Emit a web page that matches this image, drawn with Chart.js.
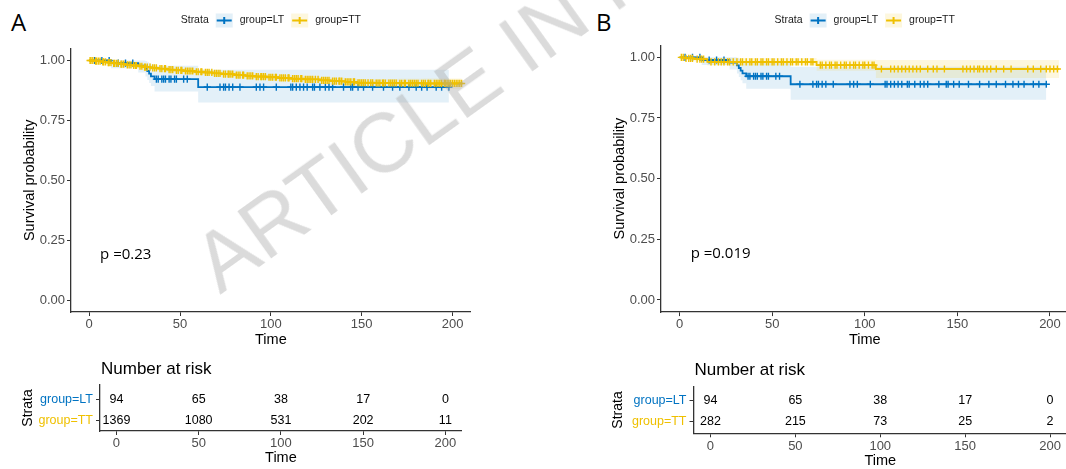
<!DOCTYPE html>
<html>
<head>
<meta charset="utf-8">
<script src="https://cdn.jsdelivr.net/npm/chart.js@4.4.1/dist/chart.umd.min.js"></script>
<style>
  html, body { margin: 0; padding: 0; background: #fff; }
  body { width: 1066px; height: 469px; position: relative; overflow: hidden; }
  canvas { position: absolute; }
  .tag { position: absolute; top: 10px; font-family: "Open Sans", sans-serif; font-size: 24px; line-height: 24px; color: #000; }
  .watermark {
    position: absolute; left: 220px; top: 295px; white-space: nowrap;
    font-family: "Liberation Sans", Arial, sans-serif; font-size: 84px; line-height: 84px;
    color: rgba(165, 165, 165, 0.4); pointer-events: none;
    transform-origin: 0 0; transform: rotate(-35.6deg) translate(0, -71px);
  }
</style>
</head>
<body>
<div class="tag" style="left:11px">A</div>
<div class="tag" style="left:596px">B</div>
<canvas id="survA" width="533" height="360" style="left:0;top:0;width:533px;height:360px"></canvas>
<canvas id="survB" width="490" height="360" style="left:590px;top:0;width:490px;height:360px"></canvas>
<canvas id="riskA" width="533" height="130" style="left:0;top:345px;width:533px;height:130px"></canvas>
<canvas id="riskB" width="490" height="130" style="left:590px;top:345px;width:490px;height:130px"></canvas>
<div class="watermark">ARTICLE IN PRESS</div>

<script>
// ---- values ----
const timeTicks = [0, 50, 100, 150, 200];
const survTicks = [0, 0.25, 0.5, 0.75, 1];
const strata = ['group=LT', 'group=TT'];

// group=LT (same group in A and B)
const ltTimes = [0, 12, 27, 31, 32, 33, 34, 36, 60, 198];
const ltSurv  = [1, 0.989, 0.978, 0.967, 0.956, 0.945, 0.934, 0.922, 0.889, 0.889];
const ltUpper = [1, 1, 1, 0.998, 0.993, 0.988, 0.983, 0.978, 0.961, 0.961];
const ltLower = [1, 0.968, 0.950, 0.933, 0.919, 0.906, 0.893, 0.870, 0.825, 0.825];
const ltCensor = [3, 7, 11, 16, 20, 24, 37, 38, 40, 41, 42, 44, 45, 47, 48, 52, 54, 65, 72, 74, 75, 77, 79, 83,
  92, 94, 96, 103, 111, 112, 114, 116, 118, 120, 123, 124, 127, 130, 132, 134, 140, 144, 145, 148, 151,
  156, 162, 167, 171, 176, 180, 183, 186, 191, 194, 198];

// group=TT, panel A
const ttATimes = [0, 3, 7, 10, 13, 17, 20, 24, 27, 30, 34, 38, 43, 47, 52, 58, 63, 68, 73, 80,
  86, 91, 98, 104, 111, 118, 127, 133, 141, 147, 157, 170, 184, 205];
const ttASurv = [1, 0.997, 0.994, 0.991, 0.988, 0.985, 0.982, 0.979, 0.976, 0.972, 0.969, 0.966, 0.962, 0.959,
  0.956, 0.953, 0.950, 0.946, 0.943, 0.939, 0.936, 0.933, 0.930, 0.927, 0.924, 0.921, 0.917, 0.914, 0.911,
  0.907, 0.906, 0.905, 0.904, 0.904];
const ttAUpper = [1, 1, 0.998, 0.996, 0.994, 0.992, 0.989, 0.987, 0.984, 0.981, 0.978, 0.975, 0.972, 0.969,
  0.966, 0.963, 0.960, 0.957, 0.954, 0.950, 0.947, 0.944, 0.942, 0.939, 0.937, 0.934, 0.931, 0.928, 0.926,
  0.923, 0.923, 0.924, 0.925, 0.925];
const ttALower = [1, 0.994, 0.990, 0.986, 0.982, 0.978, 0.975, 0.971, 0.968, 0.963, 0.960, 0.957, 0.952, 0.949,
  0.946, 0.943, 0.939, 0.935, 0.932, 0.928, 0.924, 0.921, 0.917, 0.914, 0.910, 0.907, 0.902, 0.899, 0.895,
  0.891, 0.888, 0.886, 0.882, 0.882];
const ttACensor = [0.5, 1, 2, 3.5, 4, 5, 6, 7.5, 8, 9, 10.5, 11, 12, 13.5, 14, 15, 16, 17.5, 18, 19, 21, 22, 23,
  24.5, 25.5, 26, 28, 29, 30.5, 31, 32, 33.5, 35, 36, 37, 39, 40, 41.5, 42, 44, 45, 46, 48, 49, 50.5, 51, 53,
  54, 55, 56, 57, 59, 60, 61.5, 62, 64, 65, 66, 67.5, 69, 70, 71, 72, 74, 75, 76.5, 77, 78, 79, 81, 82, 83,
  84.5, 85, 87, 88, 89, 90, 92, 93, 94.5, 95, 96, 97, 99, 100, 101, 102.5, 103, 105, 106, 107, 108, 109.5,
  110, 112, 113, 114, 115, 116.5, 117, 119, 120, 121, 122, 123, 124.5, 126, 128, 129, 130, 131, 132, 134,
  135, 136, 137.5, 138, 139, 141, 142, 143, 144, 145.5, 146, 148, 149, 150, 151, 152, 153.5, 155, 156, 158,
  159, 160, 161.5, 162, 163, 165, 166, 167, 168, 169, 171, 172, 173.5, 174, 176, 177, 178, 179, 180, 181,
  183, 184, 185, 186.5, 187, 188, 190, 191, 192, 193, 194, 195.5, 196, 197, 198, 199, 200, 201, 202, 203, 204, 205];

// group=TT, panel B
const ttBTimes = [0, 3, 8, 15, 74, 106, 205];
const ttBSurv  = [1, 0.996, 0.993, 0.981, 0.968, 0.952, 0.952];
const ttBUpper = [1, 1, 1, 0.997, 0.990, 0.989, 0.989];
const ttBLower = [1, 0.988, 0.983, 0.966, 0.945, 0.915, 0.915];
const ttBCensor = [1, 2, 3.5, 5, 6, 7, 9.5, 11, 12, 13, 17, 19, 21, 22.5, 24, 26, 27, 29, 31, 33, 34, 36, 38, 39,
  41, 42, 44, 45, 47, 48, 50, 51, 53, 55, 56, 58, 60, 61, 63, 64, 66, 68, 69, 71, 72, 76, 77, 79, 81, 82, 84,
  85, 87, 89, 90, 92, 94, 95, 97, 99, 100, 102, 104, 105, 109, 114, 116, 118, 120, 122, 124, 126, 128, 130,
  134, 137, 139, 143, 153, 155, 157, 159, 161, 162, 164, 166, 168, 171, 175, 179, 188, 191, 195, 198, 200,
  202, 204];

// number at risk
const riskTimes = [0, 50, 100, 150, 200];
const riskLT  = [94, 65, 38, 17, 0];
const riskTTA = [1369, 1080, 531, 202, 11];
const riskTTB = [282, 215, 73, 25, 2];

const pValueA = 'p =0.23';
const pValueB = 'p =0.019';

// ---- styling ----
const ltColor = '#0073C2';
const ttColor = '#EFC000';
const ltBand = 'rgba(0, 115, 194, 0.11)';
const ttBand = 'rgba(239, 192, 0, 0.13)';
const tickGrey = '#4d4d4d';
const axisColor = '#333';
const FONT = '"Liberation Sans", Arial, sans-serif';

Chart.defaults.font.family = FONT;
Chart.defaults.color = '#000';

function survAt(times, surv, t) {
  let s = surv[0];
  for (let i = 0; i < times.length; i++) {
    if (times[i] <= t) s = surv[i];
  }
  return s;
}

function toPoints(times, vals) {
  return times.map((t, i) => ({ x: t, y: vals[i] }));
}

function groupDatasets(g, color, band, baseOrder) {
  const cens = g.cens.map(t => ({ x: t, y: survAt(g.times, g.surv, t) }));
  return {
    bands: [
      { data: toPoints(g.times, g.lo), stepped: true, borderWidth: 0, borderColor: 'rgba(0,0,0,0)',
        pointRadius: 0, fill: false, order: baseOrder + 10 },
      { data: toPoints(g.times, g.up), stepped: true, borderWidth: 0, borderColor: 'rgba(0,0,0,0)',
        pointRadius: 0, fill: '-1', backgroundColor: band, order: baseOrder + 9 }
    ],
    marks: [
      { data: toPoints(g.times, g.surv), stepped: true, borderColor: color, borderWidth: 1.8,
        pointRadius: 0, fill: false, order: baseOrder + 1 },
      { data: cens, showLine: false, pointStyle: 'cross', pointRadius: 3.6, pointBorderWidth: 1.4,
        pointBorderColor: color, pointBackgroundColor: color, order: baseOrder }
    ]
  };
}

const strataKey = {
  id: 'strataKey',
  afterDraw(chart) {
    const { ctx, chartArea } = chart;
    const y = 20.5, keyW = 17, keyH = 14, gap = 7;
    const items = [
      { label: strata[0], color: ltColor, band: ltBand },
      { label: strata[1], color: ttColor, band: ttBand }
    ];
    ctx.save();
    ctx.font = '10.5px ' + FONT;
    ctx.textBaseline = 'middle';
    let total = ctx.measureText('Strata').width;
    items.forEach(it => { total += gap + keyW + gap + ctx.measureText(it.label).width; });
    let x = (chartArea.left + chartArea.right) / 2 - total / 2;
    ctx.fillStyle = '#1a1a1a';
    ctx.fillText('Strata', x, y);
    x += ctx.measureText('Strata').width;
    items.forEach(it => {
      x += gap;
      ctx.fillStyle = it.band;
      ctx.fillRect(x, y - keyH / 2, keyW, keyH);
      ctx.strokeStyle = it.color;
      ctx.lineWidth = 2;
      ctx.beginPath();
      ctx.moveTo(x + 1, y); ctx.lineTo(x + keyW - 1, y);
      ctx.moveTo(x + keyW / 2, y - 3.5); ctx.lineTo(x + keyW / 2, y + 3.5);
      ctx.stroke();
      x += keyW + gap;
      ctx.fillStyle = '#1a1a1a';
      ctx.fillText(it.label, x, y);
      x += ctx.measureText(it.label).width;
    });
    ctx.restore();
  }
};

const pLabel = {
  id: 'pLabel',
  afterDraw(chart, args, opts) {
    const { ctx, scales } = chart;
    ctx.save();
    ctx.font = '15px "Open Sans", sans-serif';
    ctx.fillStyle = '#000';
    ctx.textBaseline = 'middle';
    ctx.fillText(opts.text, scales.x.getPixelForValue(opts.x), scales.y.getPixelForValue(opts.y));
    ctx.restore();
  }
};

const riskText = {
  id: 'riskText',
  afterDatasetsDraw(chart) {
    const { ctx, chartArea } = chart;
    ctx.save();
    ctx.font = '12.5px ' + FONT;
    ctx.fillStyle = '#000';
    ctx.textAlign = 'center';
    ctx.textBaseline = 'middle';
    chart.data.datasets.forEach((ds, i) => {
      chart.getDatasetMeta(i).data.forEach((el, j) => {
        ctx.fillText(String(ds.data[j].n), el.x, el.y);
      });
    });
    ctx.font = '17px ' + FONT;
    ctx.textAlign = 'left';
    ctx.fillText('Number at risk', chartArea.left + 1, chartArea.top - 16);
    ctx.restore();
  }
};

function axisGrid() {
  return { drawOnChartArea: false, drawTicks: true, tickLength: 4, color: axisColor, lineWidth: 1 };
}

function timeScale(height, titlePad) {
  return {
    type: 'linear', min: -10, max: 210,
    afterBuildTicks: s => { s.ticks = timeTicks.map(v => ({ value: v })); },
    afterFit: s => { s.height = height; },
    ticks: { color: tickGrey, font: { size: 13 }, padding: 1, maxRotation: 0 },
    grid: axisGrid(),
    border: { display: true, color: axisColor, width: 1.3 },
    title: { display: true, text: 'Time', color: '#000', font: { size: 14.5 }, padding: { top: 0, bottom: titlePad } }
  };
}

function makeSurvChart(id, lt, tt, pad, pText) {
  const a = groupDatasets(lt, ltColor, ltBand, 2);
  const b = groupDatasets(tt, ttColor, ttBand, 0);
  new Chart(document.getElementById(id), {
    type: 'line',
    data: { datasets: [...a.bands, ...b.bands, ...a.marks, ...b.marks] },
    options: {
      responsive: false, animation: false, events: [],
      layout: { padding: pad },
      plugins: { legend: { display: false }, tooltip: { enabled: false }, pLabel: pText },
      scales: {
        x: timeScale(40, pad.xTitle),
        y: {
          type: 'linear', min: -0.05, max: 1.05,
          afterBuildTicks: s => { s.ticks = survTicks.map(v => ({ value: v })); },
          afterFit: s => { s.width = 71; },
          ticks: { color: tickGrey, font: { size: 13 }, padding: 2, callback: v => v.toFixed(2) },
          grid: axisGrid(),
          border: { display: true, color: axisColor, width: 1.3 },
          title: { display: true, text: 'Survival probability', color: '#000', font: { size: 14.5 },
                   padding: { top: 21, bottom: 0 } }
        }
      }
    },
    plugins: [strataKey, pLabel]
  });
}

function makeRiskChart(id, ttRisk, pad, yWidth, yRange) {
  const rowLT = riskTimes.map((t, i) => ({ x: t, y: 1, n: riskLT[i] }));
  const rowTT = riskTimes.map((t, i) => ({ x: t, y: 0, n: ttRisk[i] }));
  new Chart(document.getElementById(id), {
    type: 'line',
    data: {
      datasets: [
        { data: rowLT, showLine: false, pointRadius: 0 },
        { data: rowTT, showLine: false, pointRadius: 0 }
      ]
    },
    options: {
      responsive: false, animation: false, events: [],
      layout: { padding: pad },
      plugins: { legend: { display: false }, tooltip: { enabled: false } },
      scales: {
        x: timeScale(40, pad.xTitle),
        y: {
          type: 'linear', min: yRange[0], max: yRange[1],
          afterBuildTicks: s => { s.ticks = [{ value: 0 }, { value: 1 }]; },
          afterFit: s => { s.width = yWidth; },
          ticks: {
            font: { size: 12.5 }, padding: 3,
            callback: v => (v === 1 ? strata[0] : strata[1]),
            color: c => (c.tick && c.tick.value === 1 ? ltColor : ttColor)
          },
          grid: axisGrid(),
          border: { display: true, color: axisColor, width: 1.3 },
          title: { display: true, text: 'Strata', color: '#000', font: { size: 14 }, padding: { top: 19.6, bottom: 0 } }
        }
      }
    },
    plugins: [riskText]
  });
}

const ltGroup = { times: ltTimes, surv: ltSurv, up: ltUpper, lo: ltLower, cens: ltCensor };
const ttGroupA = { times: ttATimes, surv: ttASurv, up: ttAUpper, lo: ttALower, cens: ttACensor };
const ttGroupB = { times: ttBTimes, surv: ttBSurv, up: ttBUpper, lo: ttBLower, cens: ttBCensor };

makeSurvChart('survA', ltGroup, ttGroupA,
  { top: 48.5, left: 0, right: 62.3, bottom: 8, xTitle: 3.3 }, { text: pValueA, x: 6, y: 0.19 });
makeSurvChart('survB', ltGroup, ttGroupB,
  { top: 45.2, left: 0, right: 11.5, bottom: 7.9, xTitle: 3.3 }, { text: pValueB, x: 6, y: 0.19 });
makeRiskChart('riskA', riskTTA, { top: 40, left: 0, right: 71.2, bottom: 4, xTitle: 4.3 }, 100, [-0.52, 1.68]);
makeRiskChart('riskB', riskTTB, { top: 41.7, left: 0, right: 13, bottom: 1.7, xTitle: 3.9 }, 103.5, [-0.55, 1.65]);
</script>
</body>
</html>
